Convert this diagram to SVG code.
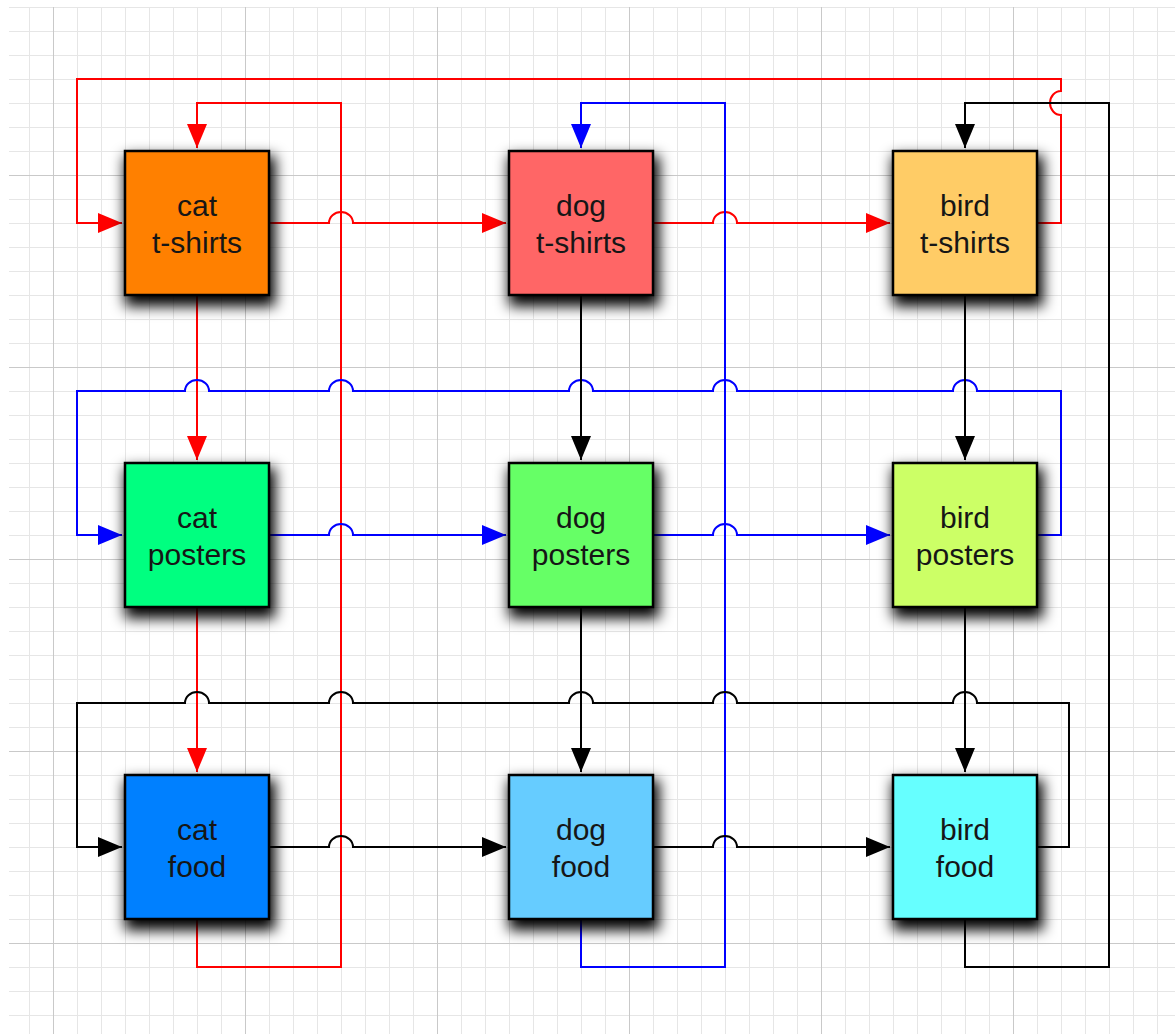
<svg xmlns="http://www.w3.org/2000/svg" width="1175" height="1034" viewBox="0 0 1175 1034">
<defs>
<pattern id="minor" patternUnits="userSpaceOnUse" x="5" y="7" width="24" height="24">
<path d="M0,0 H24 M0,0 V24" stroke="#e6e6e6" stroke-width="2" fill="none"/>
</pattern>
<pattern id="major" patternUnits="userSpaceOnUse" x="53" y="175" width="192" height="192">
<path d="M0,0 H192 M0,0 V192" stroke="#c9c9c9" stroke-width="2" fill="none"/>
</pattern>
<filter id="shadow" x="-40%" y="-40%" width="180%" height="190%">
<feMorphology in="SourceAlpha" operator="dilate" radius="2" result="d"/>
<feOffset in="d" dx="3" dy="8" result="o"/>
<feGaussianBlur in="o" stdDeviation="7" result="b"/>
<feMerge><feMergeNode in="b"/><feMergeNode in="SourceGraphic"/></feMerge>
</filter>
<marker id="aR" markerUnits="userSpaceOnUse" markerWidth="24" markerHeight="20" refX="24" refY="10" orient="auto"><path d="M0,0 L24,10 L0,20 Z" fill="#ff0000"/></marker>
<marker id="aB" markerUnits="userSpaceOnUse" markerWidth="24" markerHeight="20" refX="24" refY="10" orient="auto"><path d="M0,0 L24,10 L0,20 Z" fill="#0000ff"/></marker>
<marker id="aK" markerUnits="userSpaceOnUse" markerWidth="24" markerHeight="20" refX="24" refY="10" orient="auto"><path d="M0,0 L24,10 L0,20 Z" fill="#000"/></marker>
</defs>
<style>
.node rect { stroke: #000; stroke-width: 2.5; filter: url(#shadow); }
.node text { font-family: "Liberation Sans", Arial, Helvetica, sans-serif; font-size: 30px; fill: #161616; text-anchor: middle; }
.c { fill: none; stroke-width: 2; stroke-linejoin: miter; }
.r { stroke: #ff0000; }
.b { stroke: #0000ff; }
.k { stroke: #000; }
</style>
<rect x="0" y="0" width="1175" height="1034" fill="#fff"/>
<rect x="9" y="7" width="1166" height="1027" fill="url(#minor)"/>
<rect x="9" y="7" width="1166" height="1027" fill="url(#major)"/>

<g id="connectors">
<path class="c r" marker-end="url(#aR)" d="M269,223 L329,223 A12 11 0 0 1 353,223 L506,223"/>
<path class="c r" marker-end="url(#aR)" d="M653,223 L713,223 A12 11 0 0 1 737,223 L890,223"/>
<path class="c r" marker-end="url(#aR)" d="M1037,223 L1061,223 L1061,115 A11 12 0 0 1 1061,91 L1061,79 L77,79 L77,223 L122,223"/>
<path class="c r" marker-end="url(#aR)" d="M197,295 L197,460"/>
<path class="c r" marker-end="url(#aR)" d="M197,607 L197,772"/>
<path class="c r" marker-end="url(#aR)" d="M197,919 L197,967 L341,967 L341,103 L197,103 L197,148"/>

<path class="c b" marker-end="url(#aB)" d="M269,535 L329,535 A12 11 0 0 1 353,535 L506,535"/>
<path class="c b" marker-end="url(#aB)" d="M653,535 L713,535 A12 11 0 0 1 737,535 L890,535"/>
<path class="c b" marker-end="url(#aB)" d="M1037,535 L1061,535 L1061,391 L977,391 A12 11 0 0 0 953,391 L737,391 A12 11 0 0 0 713,391 L593,391 A12 11 0 0 0 569,391 L353,391 A12 11 0 0 0 329,391 L209,391 A12 11 0 0 0 185,391 L77,391 L77,535 L122,535"/>
<path class="c b" marker-end="url(#aB)" d="M581,919 L581,967 L725,967 L725,103 L581,103 L581,148"/>

<path class="c k" marker-end="url(#aK)" d="M581,295 L581,460"/>
<path class="c k" marker-end="url(#aK)" d="M581,607 L581,772"/>
<path class="c k" marker-end="url(#aK)" d="M965,295 L965,460"/>
<path class="c k" marker-end="url(#aK)" d="M965,607 L965,772"/>
<path class="c k" marker-end="url(#aK)" d="M269,847 L329,847 A12 11 0 0 1 353,847 L506,847"/>
<path class="c k" marker-end="url(#aK)" d="M653,847 L713,847 A12 11 0 0 1 737,847 L890,847"/>
<path class="c k" marker-end="url(#aK)" d="M1037,847 L1069,847 L1069,703 L977,703 A12 11 0 0 0 953,703 L737,703 A12 11 0 0 0 713,703 L593,703 A12 11 0 0 0 569,703 L353,703 A12 11 0 0 0 329,703 L209,703 A12 11 0 0 0 185,703 L77,703 L77,847 L122,847"/>
<path class="c k" marker-end="url(#aK)" d="M965,919 L965,967 L1109,967 L1109,103 L965,103 L965,148"/>
</g>

<g id="cat-tshirts" class="node"><rect x="125" y="151" width="144" height="144" fill="#ff8000"/><text x="197" y="216">cat</text><text x="197" y="253">t-shirts</text></g>
<g id="dog-tshirts" class="node"><rect x="509" y="151" width="144" height="144" fill="#ff6666"/><text x="581" y="216">dog</text><text x="581" y="253">t-shirts</text></g>
<g id="bird-tshirts" class="node"><rect x="893" y="151" width="144" height="144" fill="#ffcc66"/><text x="965" y="216">bird</text><text x="965" y="253">t-shirts</text></g>
<g id="cat-posters" class="node"><rect x="125" y="463" width="144" height="144" fill="#00ff80"/><text x="197" y="528">cat</text><text x="197" y="565">posters</text></g>
<g id="dog-posters" class="node"><rect x="509" y="463" width="144" height="144" fill="#66ff66"/><text x="581" y="528">dog</text><text x="581" y="565">posters</text></g>
<g id="bird-posters" class="node"><rect x="893" y="463" width="144" height="144" fill="#ccff66"/><text x="965" y="528">bird</text><text x="965" y="565">posters</text></g>
<g id="cat-food" class="node"><rect x="125" y="775" width="144" height="144" fill="#0080ff"/><text x="197" y="840">cat</text><text x="197" y="877">food</text></g>
<g id="dog-food" class="node"><rect x="509" y="775" width="144" height="144" fill="#66ccff"/><text x="581" y="840">dog</text><text x="581" y="877">food</text></g>
<g id="bird-food" class="node"><rect x="893" y="775" width="144" height="144" fill="#66ffff"/><text x="965" y="840">bird</text><text x="965" y="877">food</text></g>
</svg>
